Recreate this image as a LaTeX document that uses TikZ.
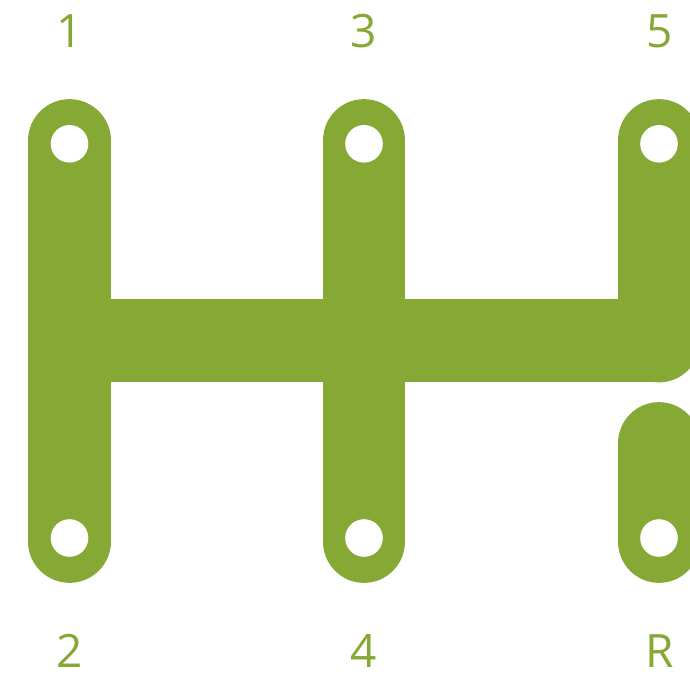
\documentclass[tikz,border=0pt]{standalone}
\usepackage{fontspec}
\setmainfont{Open Sans}
\definecolor{shiftgreen}{RGB}{134,168,52}
\begin{document}
\begin{tikzpicture}[x=1pt,y=-1pt,
  bar/.style={draw=shiftgreen,line width=82.7pt,line cap=round},
  hole/.style={fill=white},
  gear/.style={text=shiftgreen,font=\fontsize{46}{46}\selectfont,anchor=base,inner sep=0pt}]
\useasboundingbox (0,0) rectangle (690,674);
\begin{scope}
\clip (0,0) rectangle (690,674);
% horizontal bar
\fill[shiftgreen] (69.5,299) rectangle (659,382);
% vertical bars
\draw[bar] (69.5,140.5) -- (69.5,541.5);
\draw[bar] (364,140.5) -- (364,541.5);
\draw[bar] (659,140.5) -- (659,341);
\draw[bar] (659,443.5) -- (659,541.5);
% holes
\foreach \x in {69.5,364,659}{
  \fill[hole] (\x,143.8) circle (18.8);
  \fill[hole] (\x,538) circle (18.8);
}
\end{scope}
% labels
\node[gear] (g1) at (70,48) {1};
\node[gear] (g3) at (364,48) {3};
\node[gear] (g5) at (660,48) {5};
\node[gear] (g2) at (70,667) {2};
\node[gear] (g4) at (364,667) {4};
\node[gear] (gR) at (660,667) {R};
\end{tikzpicture}
\end{document}
